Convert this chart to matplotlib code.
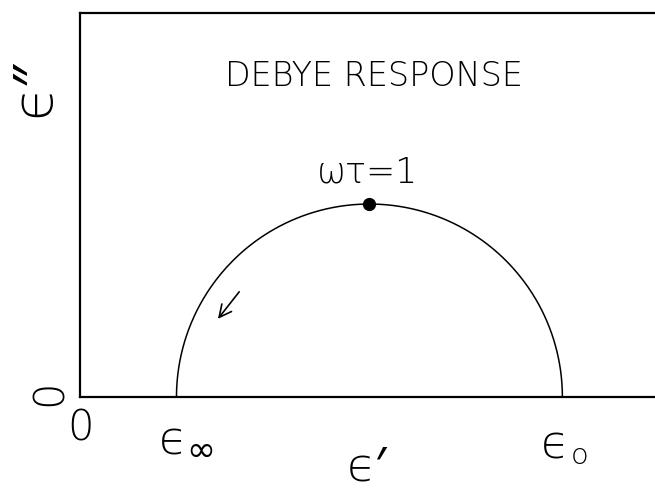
import numpy as np
import matplotlib
matplotlib.use("Agg")
import matplotlib.pyplot as plt

# Debye semicircle: eps_inf and eps_0 on the real axis
eps_inf = 1.0
eps_0 = 5.0
omega_tau = np.logspace(-3, 3, 400)
peak_wt = [1.0]

xlim = (0, 5.96)
ylim = (0, 3.98)

eps_re = eps_inf + (eps_0 - eps_inf) / (1 + omega_tau ** 2)
eps_im = (eps_0 - eps_inf) * omega_tau / (1 + omega_tau ** 2)
peak_re = [eps_inf + (eps_0 - eps_inf) / (1 + w ** 2) for w in peak_wt]
peak_im = [(eps_0 - eps_inf) * w / (1 + w ** 2) for w in peak_wt]

plt.rcParams['font.family'] = ['DejaVu Sans', 'Noto Sans']
W = 200  # thin strokes like the plotter font

fig = plt.figure(figsize=(6.55, 4.94), dpi=100)
ax = fig.add_axes([80 / 655, 97 / 494, 1 - 80 / 655, 384 / 494])

# end points pinned to the axis
ax.plot(np.r_[eps_0, eps_re, eps_inf], np.r_[0, eps_im, 0], color='black', lw=1.1)
ax.plot(peak_re, peak_im, 'o', color='black', ms=8.5)

ax.annotate('', xy=(1.43, 0.81), xytext=(1.65, 1.09),
            arrowprops=dict(arrowstyle='->', lw=1.2, color='black',
                            mutation_scale=22, shrinkA=0, shrinkB=0))

ax.set_xlim(*xlim)
ax.set_ylim(*ylim)
ax.set_xticks([])
ax.set_yticks([])
for s in ['left', 'bottom', 'top']:
    ax.spines[s].set_linewidth(1.6)
ax.spines['right'].set_visible(False)

ax.text(3.05, 3.32, 'DEBYE RESPONSE', ha='center', va='center',
        fontsize=24, fontweight=W)
ax.text(2.98, 2.33, 'ωτ=1', ha='center', va='center', fontsize=25,
        fontweight=W)

def lab(x, y, s, size, rot=0, weight=W):
    ax.text(x, y, s, ha='center', va='center', fontsize=size,
            fontweight=weight, rotation=rot, clip_on=False)

# tick-like labels
lab(0.01, -0.32, '0', 30)
lab(-0.32, 0.04, '0', 30, rot=90)
lab(0.96, -0.46, 'ϵ', 33)
lab(1.25, -0.56, '∞', 25, weight='normal')
lab(4.92, -0.50, 'ϵ', 33)
lab(5.18, -0.61, 'o', 21)

# axis labels
lab(2.97, -0.73, 'ϵ′', 34)
lab(-0.47, 3.2, 'ϵ″', 40, rot=90)

fig.savefig('out.png', dpi=100)
